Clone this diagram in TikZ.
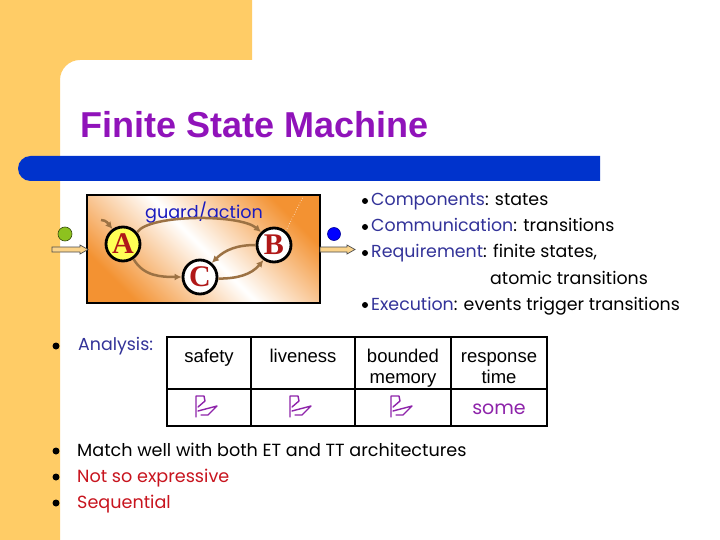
\documentclass[tikz,border=0pt]{standalone}
\usepackage{fontspec}
\setmainfont{Liberation Sans}
\newfontfamily\comicf{Poppins}
\newfontfamily\arialf{Liberation Sans}
\newfontfamily\timesf{Liberation Serif}
\usetikzlibrary{arrows.meta}
\definecolor{orng}{HTML}{FFCC66}
\definecolor{barblue}{HTML}{0033CC}
\definecolor{ttl}{HTML}{9013BA}
\definecolor{kw}{HTML}{333399}
\definecolor{gblue}{HTML}{1A1ABF}
\definecolor{redt}{HTML}{C8141E}
\definecolor{purp}{HTML}{8E24AA}
\definecolor{brn}{HTML}{9C7244}
\definecolor{fsmor}{HTML}{F39232}
\definecolor{stred}{HTML}{B01818}
\definecolor{yel}{HTML}{FFFF55}
\definecolor{grn}{HTML}{8DC21F}
\definecolor{arrfill}{HTML}{FAD38A}
\tikzset{
  st/.style={circle, draw=black, line width=2.8pt, minimum size=34pt, inner sep=0pt,
    font=\timesf\bfseries\fontsize{30}{30}\selectfont, text=stred},
  tr/.style={draw=brn, line width=2.5pt, -{Latex[length=7pt,width=7pt]}},
  rt/.style={anchor=base west, inner sep=0pt, font=\comicf\fontsize{17.4}{19}\selectfont},
  bt/.style={anchor=base west, inner sep=0pt, font=\comicf\fontsize{17.6}{19}\selectfont},
  hd/.style={anchor=base, inner sep=0pt, font=\arialf\fontsize{18.5}{20}\selectfont},
  flagpic/.pic={
    \draw[purp, line width=1.4pt, line join=round, line cap=round]
      (-10,10) -- (-10,-11) -- (-2,-11) -- (-1,-6) -- (-8,0);
    \draw[purp, line width=1.4pt, line join=round, line cap=round]
      (-8,4) -- (11,-1) -- (2,8) -- (-5,8);
  }
}
\begin{document}
\begin{tikzpicture}[x=1pt,y=-1pt]
\useasboundingbox (0,0) rectangle (720,540);
\fill[white] (0,0) rectangle (720,540);
% orange background
\fill[orng] (0,0) -- (252,0) -- (252,60) -- (80,60)
  arc[start angle=-90, end angle=-180, radius=20] -- (60,540) -- (0,540) -- cycle;
% blue bar
\fill[barblue] (600,156) -- (30.5,156) arc[start angle=-90, end angle=-270, radius=12.5]
  -- (600,181) -- cycle;
% title
\node[anchor=base west, inner sep=0pt, font=\arialf\bfseries\fontsize{36}{40}\selectfont, text=ttl]
  (title) at (80,138) {Finite State Machine};

% FSM box
\path[draw=black, line width=2.5pt, shading=axis, top color=fsmor, bottom color=fsmor,
  middle color=white, shading angle=-45] (87,195) rectangle (320,303);
\node[font=\comicf\fontsize{17.6}{19}\selectfont, text=gblue, inner sep=0pt] (ga) at (204,213) {guard/action};
\node[st, fill=yel] (A) at (123,244) {A};
\node[st, fill=white] (B) at (274,245) {B};
\node[st, fill=white] (C) at (200,277) {C};
\coordinate (i0) at (101,220);
\coordinate (dtop) at (303,197);
\draw[white, line width=0.6pt, dotted] (B.50) -- (dtop);
\draw[tr] (i0) to[out=0, in=130] (A.125);
\draw[tr] (A.40) .. controls (150,214) and (240,214) .. (B.135);
\draw[tr] (A.-55) to[out=-60, in=180] (C.180);
\draw[tr] (B.180) to[out=180, in=45] (C.50);
\draw[tr] (C.-5) to[out=0, in=-130] (B.-125);

% input / output
\node[circle, draw=black!60!grn, fill=grn, line width=0.6pt, minimum width=12pt, minimum height=14pt, inner sep=0pt] (gin) at (65,234) {};
\node[circle, draw=blue!60!black, fill=blue, line width=0.6pt, minimum width=12pt, minimum height=13pt, inner sep=0pt] (bout) at (334,234) {};
\draw[fill=arrfill, draw=black!70, line width=0.7pt, line join=miter]
  (52,247) -- (80,247) -- (80,245) -- (88,249.5) -- (80,254) -- (80,252) -- (52,252) -- cycle;
\draw[fill=arrfill, draw=black!70, line width=0.7pt, line join=miter]
  (320,247) -- (347,247) -- (347,245) -- (355,249.5) -- (347,254) -- (347,252) -- (320,252) -- cycle;

% right text block
\foreach \yy in {201,227,253,305} \fill[black] (365,\yy) circle (3pt);
\node[rt] (r1) at (371,206) {\textcolor{kw}{Components}: states};
\node[rt] (r2) at (371,232) {\textcolor{kw}{Communication}: transitions};
\node[rt] (r3) at (371,258) {\textcolor{kw}{Requirement}: finite states,};
\node[rt] (r4) at (490,284) {atomic transitions};
\node[rt] (r5) at (371,310) {\textcolor{kw}{Execution}: events trigger transitions};

% analysis
\fill[black] (56,346) circle (3.5pt);
\node[rt, text=kw] (an) at (78,350) {Analysis:};
\draw[line width=2.5pt] (167,337) rectangle (547,426);
\draw[line width=2pt] (251,337) -- (251,426) (355,337) -- (355,426) (451,337) -- (451,426)
  (167,389) -- (547,389);
\node[hd] (h1) at (209,362) {safety};
\node[hd] (h2) at (303,362) {liveness};
\node[hd] (h3) at (403,362) {bounded};
\node[hd] (h3b) at (403,383) {memory};
\node[hd] (h4) at (499,362) {response};
\node[hd] (h4b) at (499,383) {time};
\pic at (206,407) {flagpic};
\pic at (300,407) {flagpic};
\pic at (401,407) {flagpic};
\node[anchor=base, inner sep=0pt, font=\comicf\fontsize{19}{20}\selectfont, text=purp] (some) at (499,414) {some};

% bottom bullets
\foreach \yy in {451,477,503} \fill[black] (56,\yy) circle (3.5pt);
\node[bt] (b1) at (77,456) {Match well with both ET and TT architectures};
\node[bt, text=redt] (b2) at (77,482) {Not so expressive};
\node[bt, text=redt] (b3) at (77,508) {Sequential};
\end{tikzpicture}
\end{document}
